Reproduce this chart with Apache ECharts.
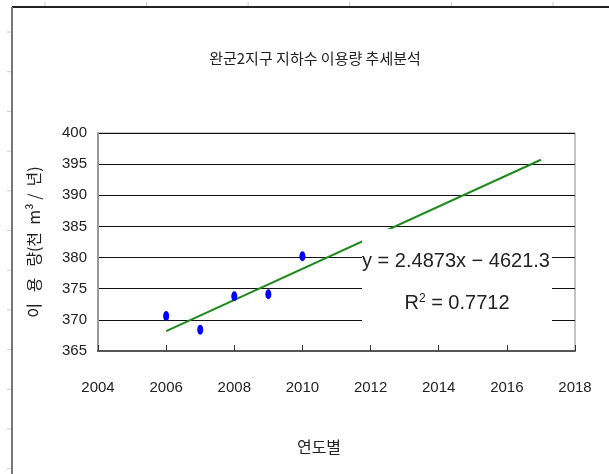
<!DOCTYPE html>
<html><head><meta charset="utf-8">
<script src="https://cdn.jsdelivr.net/npm/echarts@6/dist/echarts.min.js"></script>
<style>html,body{margin:0;padding:0;background:#fff}#c{width:609px;height:474px}</style>
</head><body><div id="c"></div>
<script>
const titleText = '완군2지구 지하수 이용량 추세분석';
const xName = '연도별';
const yName = '이   용   량(천  m³ /  년)';
const years = [2006, 2007, 2008, 2009, 2010];
const usage = [370.6, 368.4, 373.8, 374.1, 380.2];
const trendYears = [2006, 2017];
const trendValues = [368.2, 395.7];
const eqLine1 = 'y = 2.4873x \u2212 4621.3';
const eqLine2 = 'R{sup|2} = 0.7712';

const narrow = "'Liberation Sans', Arial, sans-serif";
const kr = "'Noto Sans CJK KR', sans-serif";

const chart = echarts.init(document.getElementById('c'));
const graphics = [];
// outer frame
graphics.push({type:'line', shape:{x1:12,y1:7,x2:609,y2:7}, style:{stroke:'#222',lineWidth:2}, silent:true});
graphics.push({type:'line', shape:{x1:12,y1:7,x2:12,y2:474}, style:{stroke:'#777',lineWidth:2}, silent:true});
for (let i = 0; i < 6; i++) {
  const x = 45 + i * 101.6;
  graphics.push({type:'line', shape:{x1:x,y1:2,x2:x,y2:6}, style:{stroke:'#ccc',lineWidth:1}, silent:true});
}
for (let i = 0; i < 12; i++) {
  const y = 32 + i * 39.7;
  graphics.push({type:'line', shape:{x1:7,y1:y,x2:11,y2:y}, style:{stroke:'#ccc',lineWidth:1}, silent:true});
}
// equation box
graphics.push({type:'rect', shape:{x:362,y:229,width:190,height:104}, style:{fill:'#fff'}, z:100, silent:true});
graphics.push({type:'text', x:456, y:261, z:101, style:{text:eqLine1, font:'20px ' + narrow, fill:'#222', textAlign:'center', textVerticalAlign:'middle'}});
graphics.push({type:'text', x:457, y:303, z:101, style:{
  text:eqLine2, fill:'#222', textAlign:'center', textVerticalAlign:'middle',
  font:'20px ' + narrow,
  rich:{sup:{fontSize:12, fontFamily:narrow, verticalAlign:'top', padding:[0,0,9,0], fill:'#222'}}
}});
graphics.push({type:'text', x:319, y:447, style:{text:xName, font:'16px ' + kr, fill:'#222', textAlign:'center', textVerticalAlign:'middle'}});

chart.setOption({
  animation:false,
  backgroundColor:'#fff',
  title:{text:titleText, left:310, top:46, textAlign:'center',
    textStyle:{fontFamily:kr, fontSize:15, fontWeight:'normal', color:'#222'}},
  grid:{left:98, right:34, top:133, bottom:123, show:true, borderColor:'#888', borderWidth:1},
  xAxis:{type:'value', min:2004, max:2018, interval:2,
    axisLine:{show:true, onZero:false, lineStyle:{color:'#555', width:2}},
    axisTick:{show:true, inside:true, length:6, lineStyle:{color:'#333'}},
    axisLabel:{margin:29, fontFamily:narrow, fontSize:15, color:'#222', formatter:v=>String(v)},
    splitLine:{show:false}},
  yAxis:{type:'value', min:365, max:400, interval:5,
    name:yName, nameLocation:'middle', nameRotate:90, nameGap:56,
    nameTextStyle:{fontFamily:kr, fontSize:16, color:'#222'},
    axisLine:{show:true, lineStyle:{color:'#999', width:2}},
    axisTick:{show:false},
    axisLabel:{margin:11, fontFamily:narrow, fontSize:15, color:'#222'},
    splitLine:{show:true, lineStyle:{color:'#111', width:1}}},
  graphic:graphics,
  series:[
    {type:'line', data:trendYears.map((x,i)=>[x,trendValues[i]]), symbol:'none',
      lineStyle:{color:'#1d8a1d', width:2}, z:3},
    {type:'scatter', data:years.map((x,i)=>[x,usage[i]]),
      symbol:'path://M0 5a3 5 0 1 0 6 0a3 5 0 1 0 -6 0z', symbolSize:[6,10],
      itemStyle:{color:'#0000ff', opacity:1}, z:4}
  ]
});
</script></body></html>
